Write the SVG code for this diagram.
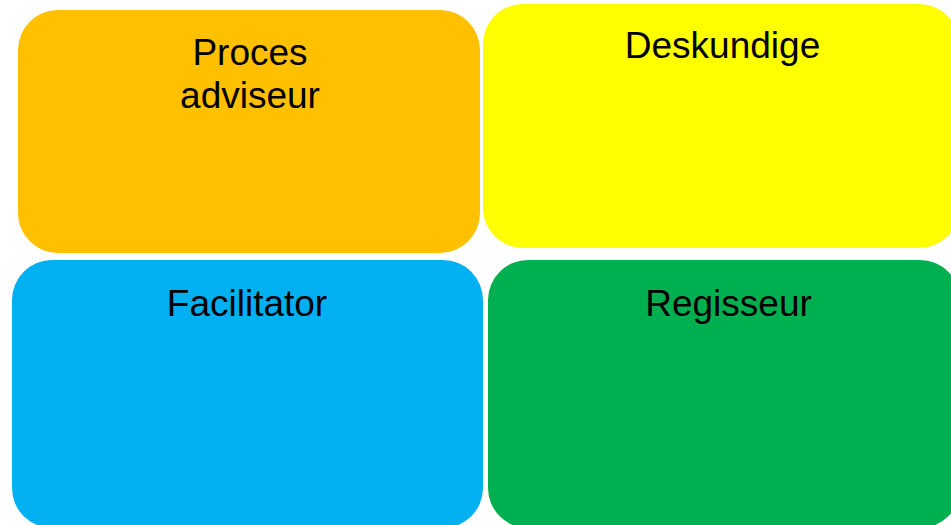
<svg xmlns="http://www.w3.org/2000/svg" width="951" height="525" viewBox="0 0 951 525">
<style>
.box{stroke:none}
.lbl{font-family:"Liberation Sans",Arial,sans-serif;font-size:37px;fill:#000;text-anchor:middle}
</style>
<rect width="951" height="525" fill="#fff"/>
<g id="node-proces">
<rect class="box" x="18" y="10" width="462" height="243" rx="40" ry="40" fill="#FFC000"/>
<text class="lbl" x="250" y="65">Proces</text>
<text class="lbl" x="250" y="108">adviseur</text>
</g>
<g id="node-deskundige">
<rect class="box" x="483" y="4" width="476" height="244" rx="40" ry="40" fill="#FFFF00"/>
<text class="lbl" x="722.5" y="58">Deskundige</text>
</g>
<g id="node-facilitator">
<rect class="box" x="12" y="260" width="471" height="268" rx="40" ry="40" fill="#00B0F0"/>
<text class="lbl" x="247" y="316">Facilitator</text>
</g>
<g id="node-regisseur">
<rect class="box" x="488" y="260" width="472" height="268" rx="40" ry="40" fill="#00B050"/>
<text class="lbl" x="728.5" y="316">Regisseur</text>
</g>
<g id="connectors"/>
</svg>
